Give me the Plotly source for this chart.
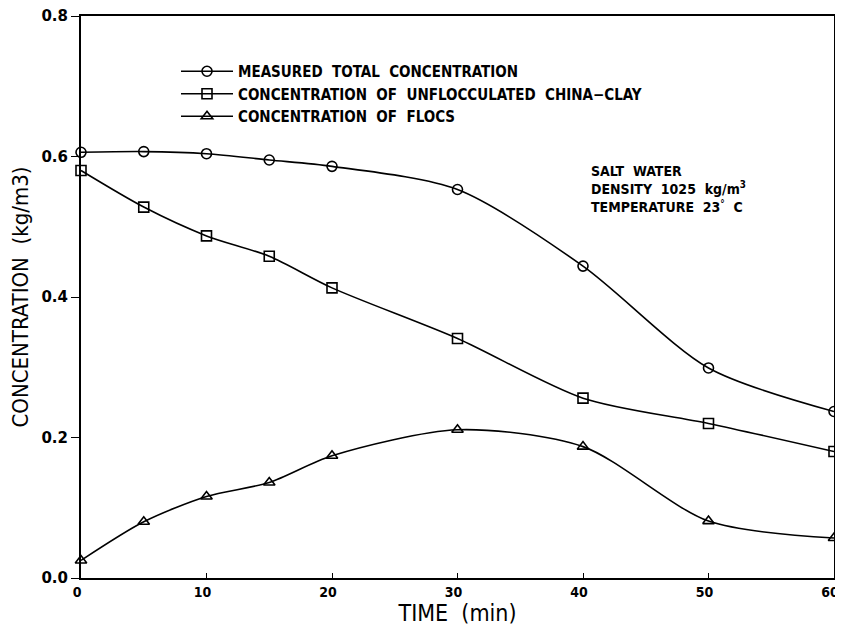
import plotly.graph_objects as go

time_min = [0, 5, 10, 15, 20, 30, 40, 50, 60]
total_conc = [0.606, 0.607, 0.604, 0.595, 0.586, 0.553, 0.444, 0.299, 0.237]
unfloc_conc = [0.580, 0.528, 0.487, 0.458, 0.413, 0.341, 0.256, 0.220, 0.180]
flocs_conc = [0.025, 0.080, 0.116, 0.136, 0.174, 0.211, 0.187, 0.081, 0.057]

series_names = [
    "MEASURED  TOTAL  CONCENTRATION",
    "CONCENTRATION  OF  UNFLOCCULATED  CHINA−CLAY",
    "CONCENTRATION  OF  FLOCS",
]
x_ticks = [0, 10, 20, 30, 40, 50, 60]
y_ticks = [0.0, 0.2, 0.4, 0.6, 0.8]
y_tick_labels = ["0.0", "0.2", "0.4", "0.6", "0.8"]

COND = "DejaVu Sans Condensed, Liberation Sans Narrow, Arial"

fig = go.Figure()
symbols = ["circle-open", "square-open", "triangle-up-open"]
for name, vals, sym in zip(series_names, [total_conc, unfloc_conc, flocs_conc], symbols):
    fig.add_trace(go.Scatter(
        x=time_min, y=vals, name=name, mode="lines+markers", cliponaxis=False,
        line=dict(color="black", width=1.6, shape="spline", smoothing=0.8),
        marker=dict(symbol=sym, size=10, color="black", line=dict(width=1.6, color="black")),
    ))

# page body adds an 8px margin; target plot area in window pixels
OFF = 8
L, R, T, B = 81, 834, 16, 578
W, H = 843 - OFF, 637 - 2 * OFF
fig.add_annotation(
    x=(590 - L) / (R - L), y=(B - 162) / (B - T), xref="paper", yref="paper", showarrow=False,
    xanchor="left", yanchor="top", align="left", borderpad=0,
    text="SALT  WATER<br>DENSITY  1025  kg/m<sup>3</sup><br>TEMPERATURE  23<sup>°</sup>  C",
    font=dict(family=COND, size=14, color="black", weight="bold"),
)

fig.update_layout(
    width=W, height=H,
    margin=dict(l=L - OFF, r=OFF + W - R, t=T - OFF, b=OFF + H - B, pad=0),
    paper_bgcolor="white", plot_bgcolor="white",
    font=dict(family=COND, color="black"),
    showlegend=True,
    legend=dict(
        x=(176 - L) / (R - L), y=(B - 55) / (B - T), xanchor="left", yanchor="top",
        bgcolor="rgba(0,0,0,0)", tracegroupgap=0, itemwidth=52,
        font=dict(family=COND, size=15, color="black", weight="bold"),
    ),
    xaxis=dict(
        range=[0, 60], tickvals=x_ticks, ticktext=[str(v) for v in x_ticks],
        showline=True, linecolor="black", linewidth=2, mirror=True, automargin=False,
        ticks="inside", ticklen=5, tickcolor="black", showgrid=False, zeroline=False,
        ticklabeloverflow="allow", ticklabelshift=-4,
        tickfont=dict(family=COND, size=14, weight="bold"),
        title=dict(text="TIME  (min)", font=dict(size=23, family=COND), standoff=0),
    ),
    yaxis=dict(
        range=[0, 0.8], tickvals=y_ticks, ticktext=y_tick_labels,
        showline=True, linecolor="black", linewidth=2, mirror=True, automargin=False,
        ticks="outside", ticklen=8, tickcolor="black", showgrid=False, zeroline=False,
        ticklabeloverflow="allow",
        tickfont=dict(family="DejaVu Sans, Arial", size=15, weight="bold"),
        title=dict(text="CONCENTRATION  (kg/m3)", font=dict(size=22, family=COND), standoff=8),
    ),
)

fig.write_html("out.html")
